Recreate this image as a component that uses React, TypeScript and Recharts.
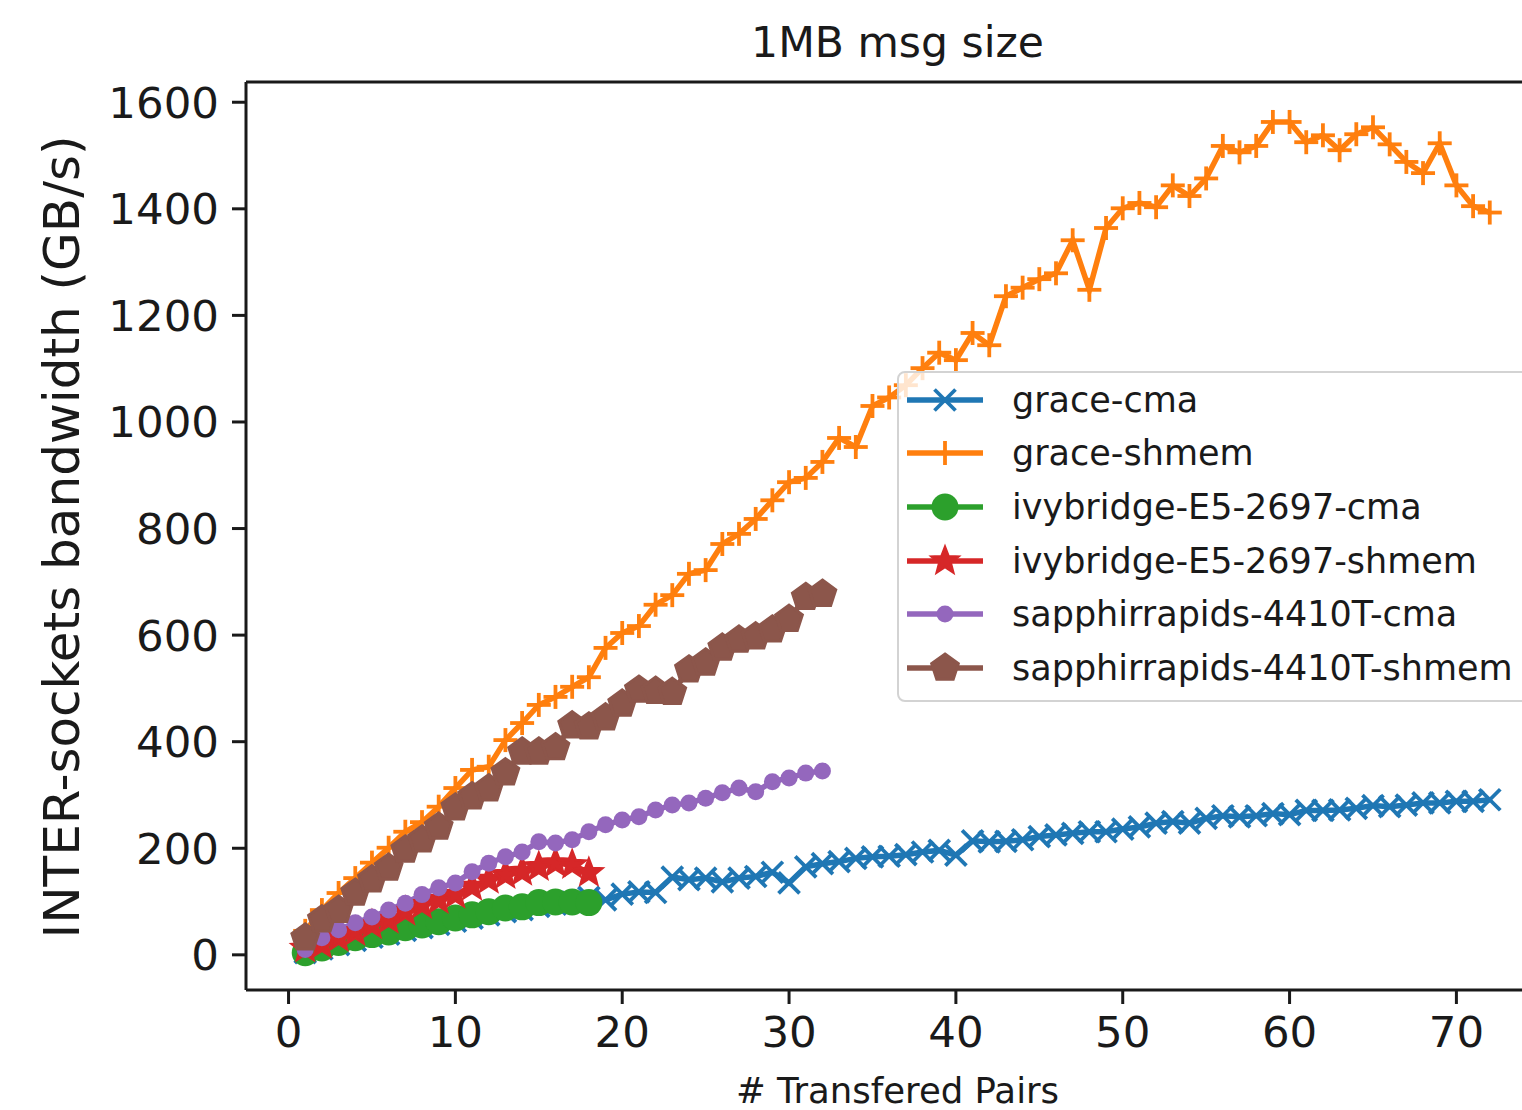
import React from 'react';
import { LineChart, Line, XAxis, YAxis, ReferenceLine, Legend } from 'recharts';

// bandwidth (GB/s) per number of transferred pairs
const GRACE_CMA = [
  4, 11, 19, 27, 33, 39, 46, 51, 57, 63, 69, 75, 81, 85, 91, 95, 99, 108, 103, 114,
  118, 117, 146, 141, 144, 137, 144, 147, 155, 135, 165, 171, 175, 181, 184, 185, 188, 193, 196, 187,
  214, 212, 213, 216, 222, 225, 228, 231, 231, 236, 240, 247, 250, 247, 256, 261, 259, 261, 265, 263,
  271, 271, 272, 275, 280, 278, 281, 285, 285, 288, 288, 291,
];
const GRACE_SHMEM = [
  45, 84, 116, 144, 173, 201, 231, 249, 278, 313, 347, 353, 403, 435, 469, 484, 503, 521, 576, 604,
  617, 657, 675, 715, 722, 771, 790, 818, 853, 887, 895, 925, 970, 953, 1030, 1046, 1069, 1101, 1130, 1116,
  1167, 1144, 1236, 1252, 1268, 1279, 1341, 1248, 1364, 1401, 1411, 1403, 1444, 1424, 1457, 1518, 1506, 1518, 1563, 1563,
  1525, 1538, 1510, 1540, 1553, 1521, 1488, 1467, 1523, 1444, 1405, 1393,
];
const IVY_CMA = [4, 13, 23, 32, 38, 43, 51, 56, 62, 69, 75, 81, 88, 90, 98, 99, 99, 98];
const IVY_SHMEM = [12, 19, 32, 43, 56, 66, 81, 94, 103, 113, 128, 141, 150, 156, 165, 172, 169, 154];
const SPR_CMA = [
  10, 32, 47, 60, 71, 84, 97, 113, 126, 135, 156, 172, 184, 193, 212, 210, 216, 231, 244, 253,
  259, 272, 281, 285, 294, 304, 313, 306, 325, 332, 341, 345,
];
const SPR_SHMEM = [
  32, 66, 84, 116, 141, 163, 197, 216, 240, 276, 297, 312, 342, 381, 381, 389, 430, 428, 445, 471,
  497, 495, 493, 535, 548, 576, 591, 597, 610, 630, 671, 677,
];

const X_TICKS = [0, 10, 20, 30, 40, 50, 60, 70];
const Y_TICKS = [0, 200, 400, 600, 800, 1000, 1200, 1400, 1600];
const X_DOMAIN: [number, number] = [-2.55, 75.55];
const Y_DOMAIN: [number, number] = [-66, 1638];

const FONT = 'DejaVu Sans, sans-serif';

type MarkerKind = 'x' | 'plus' | 'circle' | 'star' | 'point' | 'pentagon';

const SERIES: { name: string; values: number[]; color: string; marker: MarkerKind }[] = [
  { name: 'grace-cma', values: GRACE_CMA, color: '#1f77b4', marker: 'x' },
  { name: 'grace-shmem', values: GRACE_SHMEM, color: '#ff7f0e', marker: 'plus' },
  { name: 'ivybridge-E5-2697-cma', values: IVY_CMA, color: '#2ca02c', marker: 'circle' },
  { name: 'ivybridge-E5-2697-shmem', values: IVY_SHMEM, color: '#d62728', marker: 'star' },
  { name: 'sapphirrapids-4410T-cma', values: SPR_CMA, color: '#9467bd', marker: 'point' },
  { name: 'sapphirrapids-4410T-shmem', values: SPR_SHMEM, color: '#8c564b', marker: 'pentagon' },
];

const toPoints = (vals: number[]) => vals.map((v, i) => ({ pairs: i + 1, bw: v }));

function polygon(cx: number, cy: number, n: number, outer: number, inner?: number) {
  const pts: string[] = [];
  const count = inner ? n * 2 : n;
  for (let i = 0; i < count; i++) {
    const r = inner && i % 2 === 1 ? inner : outer;
    const a = -Math.PI / 2 + (i * Math.PI * 2) / count;
    pts.push(`${cx + r * Math.cos(a)},${cy + r * Math.sin(a)}`);
  }
  return pts.join(' ');
}

function Marker({ kind, cx, cy, color }: { kind: MarkerKind; cx: number; cy: number; color: string }) {
  if (cx == null || cy == null) return null;
  switch (kind) {
    case 'x': {
      const s = 10.5;
      return (
        <g stroke={color} strokeWidth={3.8}>
          <line x1={cx - s} y1={cy - s} x2={cx + s} y2={cy + s} />
          <line x1={cx - s} y1={cy + s} x2={cx + s} y2={cy - s} />
        </g>
      );
    }
    case 'plus': {
      const s = 12;
      return (
        <g stroke={color} strokeWidth={3.8}>
          <line x1={cx - s} y1={cy} x2={cx + s} y2={cy} />
          <line x1={cx} y1={cy - s} x2={cx} y2={cy + s} />
        </g>
      );
    }
    case 'circle':
      return <circle cx={cx} cy={cy} r={13.5} fill={color} />;
    case 'star':
      return <polygon points={polygon(cx, cy, 5, 14, 6)} fill={color} stroke={color} strokeWidth={2.5} />;
    case 'point':
      return <circle cx={cx} cy={cy} r={8.5} fill={color} />;
    case 'pentagon':
      return <polygon points={polygon(cx, cy, 5, 14)} fill={color} stroke={color} strokeWidth={3} />;
    default:
      return null;
  }
}

function LegendBox() {
  return (
    <div
      style={{
        boxSizing: 'border-box',
        width: 660,
        height: 331,
        background: 'rgba(255,255,255,0.8)',
        border: '2px solid #d3d3d3',
        borderRadius: 8,
        fontFamily: FONT,
      }}
    >
      {SERIES.map((s) => (
        <div key={s.name} style={{ display: 'flex', alignItems: 'center', height: 53.6 }}>
          <svg width={113} height={40} style={{ flex: 'none' }}>
            <line x1={8} y1={20} x2={84} y2={20} stroke={s.color} strokeWidth={5.5} />
            <Marker kind={s.marker} cx={46} cy={20} color={s.color} />
          </svg>
          <span style={{ fontSize: 35, color: '#1a1a1a', whiteSpace: 'nowrap' }}>{s.name}</span>
        </div>
      ))}
    </div>
  );
}

function YTitle() {
  return (
    <text
      x={79}
      y={537}
      transform="rotate(-90, 79, 537)"
      textAnchor="middle"
      fontSize={50}
      fontFamily={FONT}
      fill="#1a1a1a"
    >
      INTER-sockets bandwidth (GB/s)
    </text>
  );
}

export default function App() {
  const tick = { fill: '#1a1a1a', fontSize: 43.5, fontFamily: FONT };
  return (
    <div
      style={{
        position: 'fixed',
        left: 0,
        top: 0,
        width: 1522,
        height: 1110,
        overflow: 'hidden',
        background: '#fff',
        fontFamily: FONT,
      }}
    >
      <LineChart width={1580} height={1110} margin={{ top: 82, right: 31, bottom: 0, left: 0 }}>
        <XAxis
          dataKey="pairs"
          type="number"
          domain={X_DOMAIN}
          ticks={X_TICKS}
          interval={0}
          allowDataOverflow
          height={120}
          tickSize={14}
          tickMargin={12}
          tick={tick}
          axisLine={{ stroke: '#1a1a1a', strokeWidth: 3 }}
          tickLine={{ stroke: '#1a1a1a', strokeWidth: 3 }}
          label={{
            value: '# Transfered Pairs',
            position: 'insideBottom',
            offset: 7,
            fontSize: 35.5,
            fontFamily: FONT,
            fill: '#1a1a1a',
          }}
        />
        <YAxis
          type="number"
          domain={Y_DOMAIN}
          ticks={Y_TICKS}
          interval={0}
          allowDataOverflow
          width={246}
          tickSize={14}
          tickMargin={13}
          tick={tick}
          axisLine={{ stroke: '#1a1a1a', strokeWidth: 3 }}
          tickLine={{ stroke: '#1a1a1a', strokeWidth: 3 }}
          label={<YTitle />}
        />
        <ReferenceLine
          y={Y_DOMAIN[1]}
          stroke="#1a1a1a"
          strokeWidth={3}
          label={{
            value: '1MB msg size',
            position: 'top',
            offset: 25,
            fontSize: 42.5,
            fontFamily: FONT,
            fill: '#1a1a1a',
          }}
        />
        {SERIES.map((s) => (
          <Line
            key={s.name}
            data={toPoints(s.values)}
            dataKey="bw"
            name={s.name}
            type="linear"
            stroke={s.color}
            strokeWidth={5.5}
            isAnimationActive={false}
            activeDot={false}
            dot={(p: any) => (
              <Marker key={`${s.name}-${p.index}`} kind={s.marker} cx={p.cx} cy={p.cy} color={s.color} />
            )}
          />
        ))}
        <Legend
          layout="vertical"
          align="center"
          verticalAlign="middle"
          content={<LegendBox />}
          wrapperStyle={{ left: 897, top: 371, width: 660, height: 331 }}
        />
      </LineChart>
    </div>
  );
}
